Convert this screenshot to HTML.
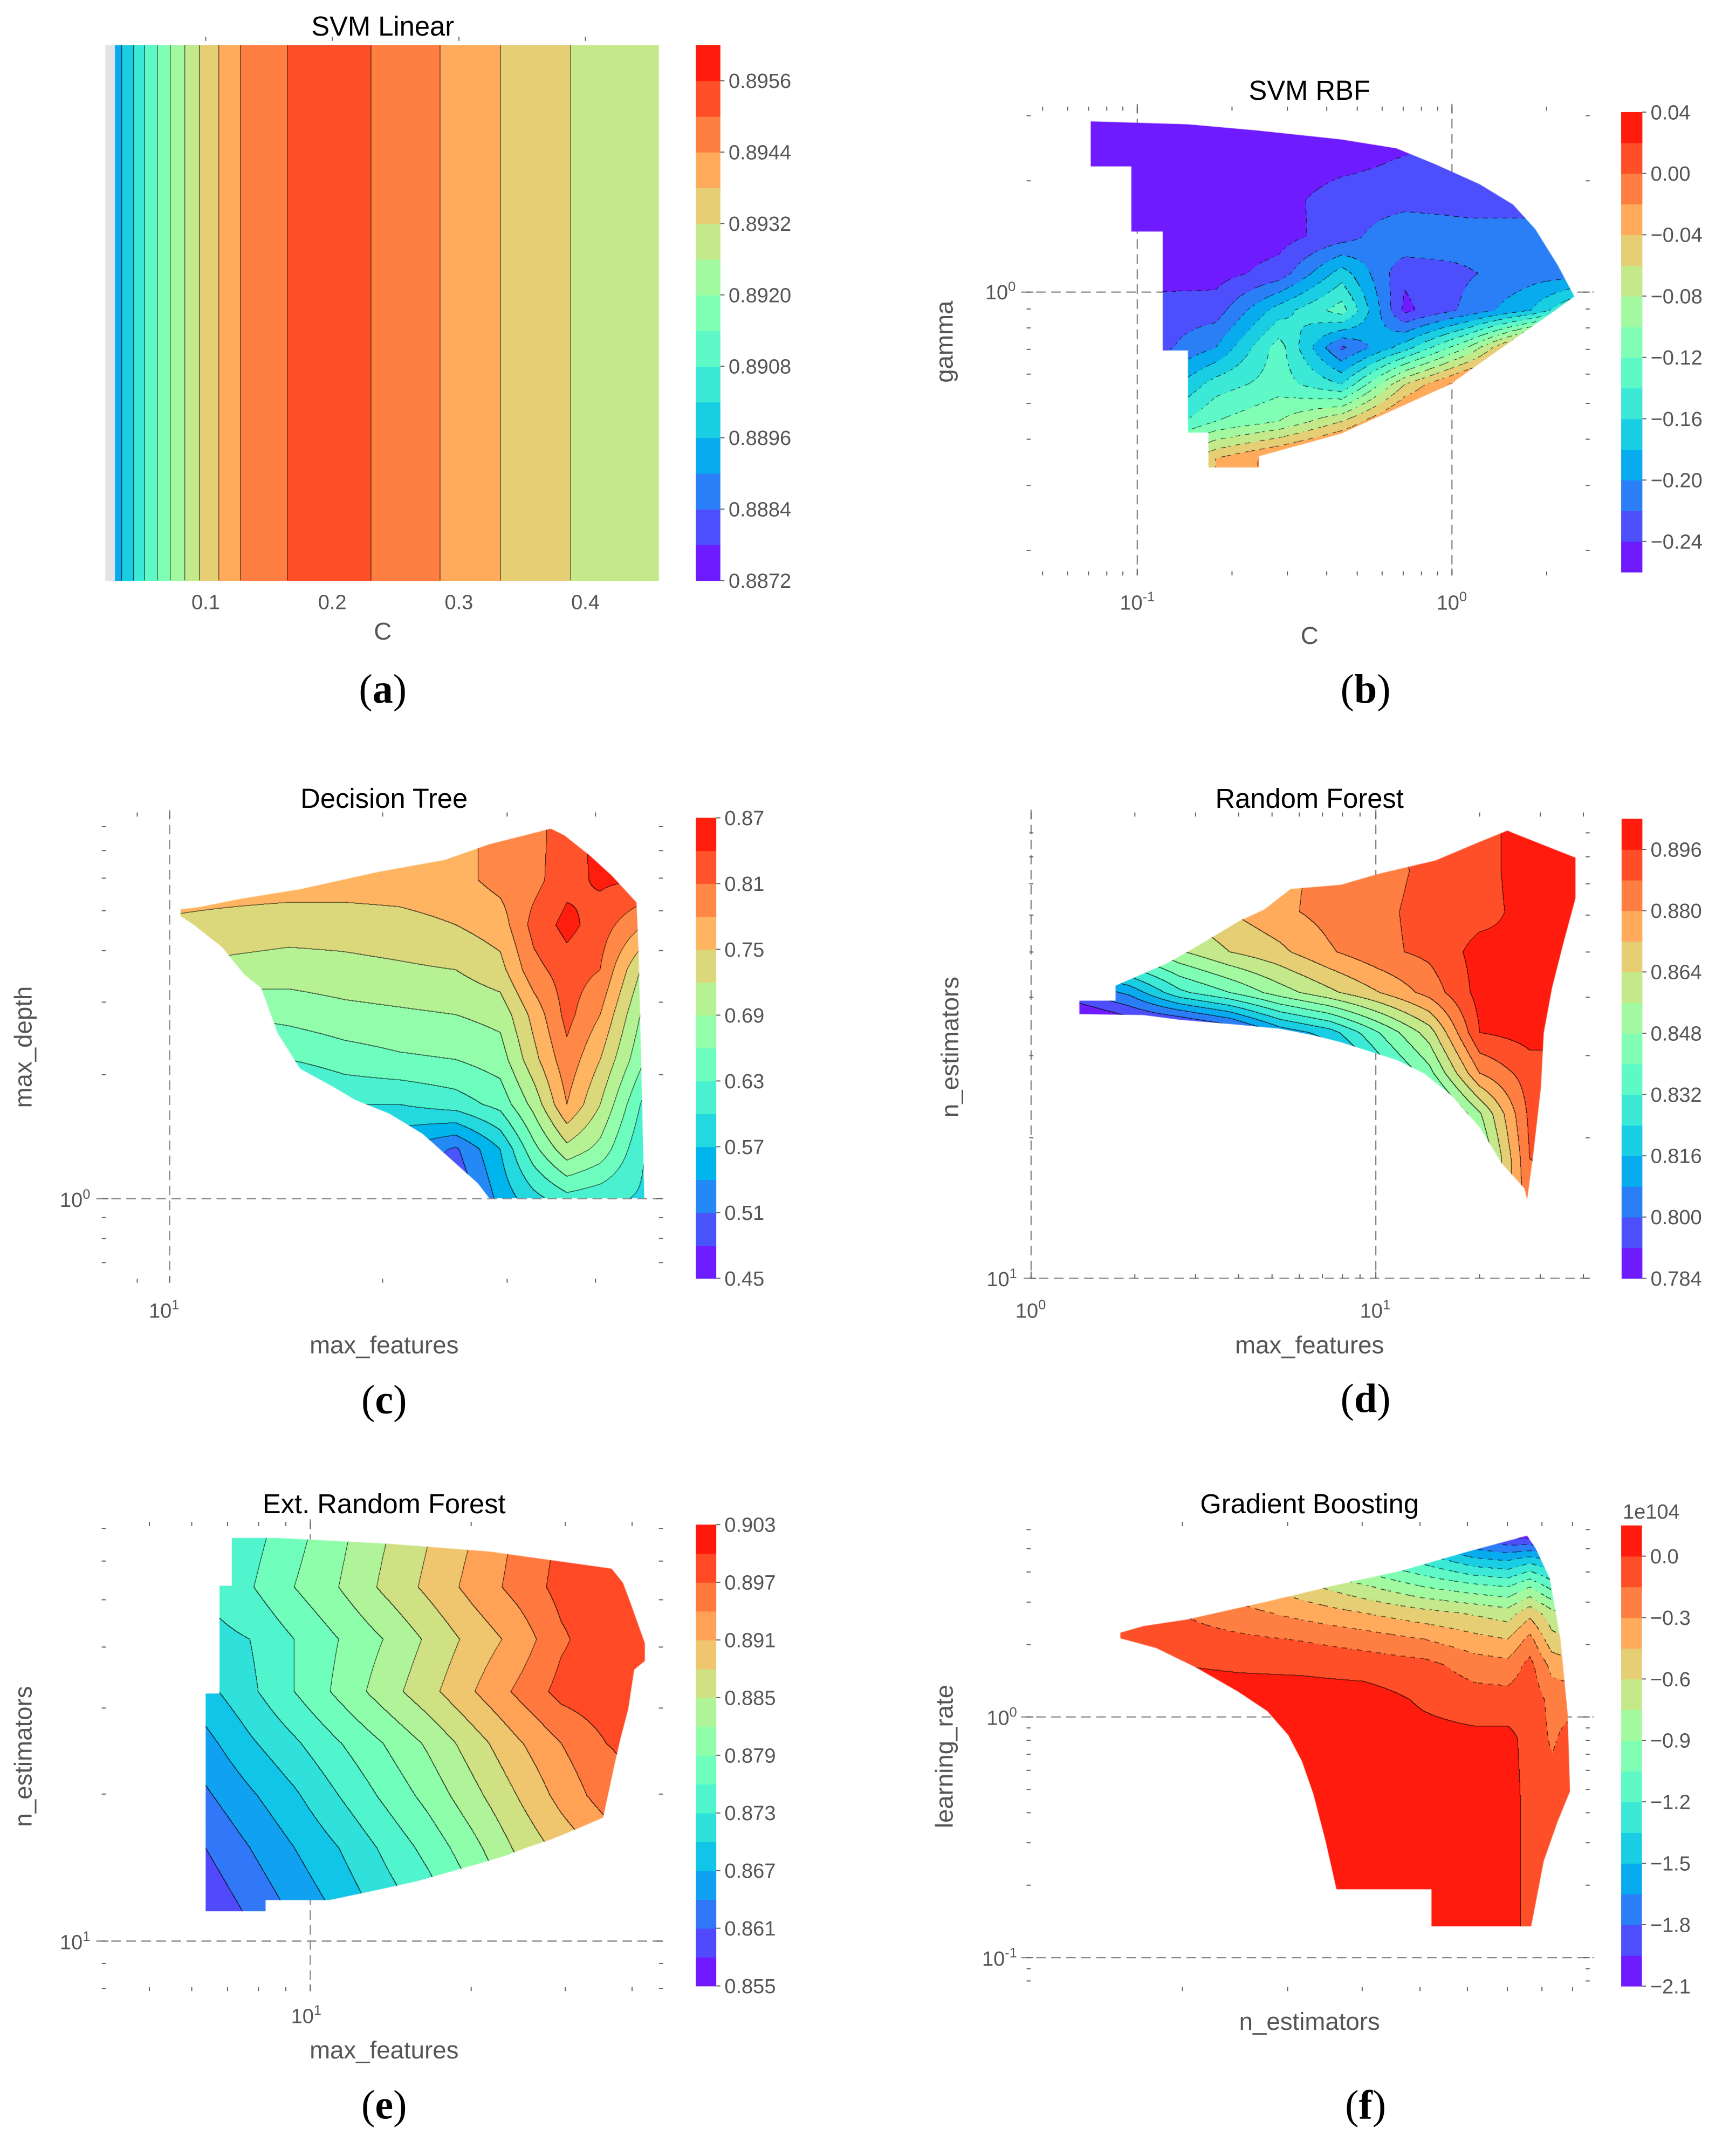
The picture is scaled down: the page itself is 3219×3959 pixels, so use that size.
<!DOCTYPE html>
<html><head><meta charset="utf-8"><title>Hyperparameter contour plots</title>
<style>
html,body{margin:0;padding:0;background:#fff;}
body{width:3219px;height:3959px;overflow:hidden;position:relative;}
#root{position:absolute;left:0;top:0;width:1270px;height:1562px;transform:scale(2.534646);transform-origin:0 0;}
svg{position:absolute;left:0;top:0;overflow:visible;}
canvas{position:absolute;}
.t{font-family:"Liberation Sans","DejaVu Sans",sans-serif;}
.title{font-size:20px;fill:#000;text-anchor:middle;}
.lab{font-size:18px;fill:#555;text-anchor:middle;}
.tick{font-size:15px;fill:#555;}
.cap{font-family:"Liberation Serif",serif;font-size:30px;fill:#000;text-anchor:middle;}
</style></head>
<body>
<div id="root">
<svg id="under" width="1270" height="1562" viewBox="0 0 1270 1562"></svg>
<div id="canvases"></div>
<svg id="over" width="1270" height="1562" viewBox="0 0 1270 1562">
<g class="t">
<text class="title" x="280" y="26">SVM Linear</text>
<text class="lab" x="280" y="468">C</text>
<text class="cap" x="280" y="514">(<tspan font-weight="bold">a</tspan>)</text>
<text class="title" x="958" y="73">SVM RBF</text>
<text class="lab" x="958" y="471">C</text>
<text class="lab" transform="translate(697,250) rotate(-90)">gamma</text>
<text class="tick" x="832" y="446" text-anchor="middle">10<tspan font-size="10" dy="-6">-1</tspan></text>
<text class="tick" x="1062" y="446" text-anchor="middle">10<tspan font-size="10" dy="-6">0</tspan></text>
<text class="tick" x="743" y="219" text-anchor="end">10<tspan font-size="10" dy="-6">0</tspan></text>
<text class="cap" x="999" y="514">(<tspan font-weight="bold">b</tspan>)</text>
<text class="title" x="281" y="591">Decision Tree</text>
<text class="lab" x="281" y="990">max_features</text>
<text class="lab" transform="translate(23,766) rotate(-90)">max_depth</text>
<text class="tick" x="120" y="964" text-anchor="middle">10<tspan font-size="10" dy="-6">1</tspan></text>
<text class="tick" x="66" y="883" text-anchor="end">10<tspan font-size="10" dy="-6">0</tspan></text>
<text class="cap" x="281" y="1034">(<tspan font-weight="bold">c</tspan>)</text>
<text class="title" x="958" y="591">Random Forest</text>
<text class="lab" x="958" y="990">max_features</text>
<text class="lab" transform="translate(701,766) rotate(-90)">n_estimators</text>
<text class="tick" x="754" y="964" text-anchor="middle">10<tspan font-size="10" dy="-6">0</tspan></text>
<text class="tick" x="1006" y="964" text-anchor="middle">10<tspan font-size="10" dy="-6">1</tspan></text>
<text class="tick" x="744" y="941" text-anchor="end">10<tspan font-size="10" dy="-6">1</tspan></text>
<text class="cap" x="999" y="1033">(<tspan font-weight="bold">d</tspan>)</text>
<text class="title" x="281" y="1107">Ext. Random Forest</text>
<text class="lab" x="281" y="1506">max_features</text>
<text class="lab" transform="translate(23,1285) rotate(-90)">n_estimators</text>
<text class="tick" x="224" y="1480" text-anchor="middle">10<tspan font-size="10" dy="-6">1</tspan></text>
<text class="tick" x="66" y="1426" text-anchor="end">10<tspan font-size="10" dy="-6">1</tspan></text>
<text class="cap" x="281" y="1550">(<tspan font-weight="bold">e</tspan>)</text>
<text class="title" x="958" y="1107">Gradient Boosting</text>
<text class="lab" x="958" y="1485">n_estimators</text>
<text class="lab" transform="translate(697,1285) rotate(-90)">learning_rate</text>
<text class="tick" x="744" y="1262" text-anchor="end">10<tspan font-size="10" dy="-6">0</tspan></text>
<text class="tick" x="744" y="1438" text-anchor="end">10<tspan font-size="10" dy="-6">-1</tspan></text>
<text class="tick" x="1208" y="1111" text-anchor="middle">1e104</text>
<text class="cap" x="999" y="1550">(<tspan font-weight="bold">f</tspan>)</text>
</g>
</svg>
</div>
<script>
// ---------- data ----------
const svmLinC = [0.0285,0.0342,0.0434,0.0522,0.0623,0.0724,0.0838,0.0956,0.111,0.128,0.165,0.200,0.231,0.2855,0.333,0.3886,0.4575];
const svmLinAcc = [0.8891,0.8896,0.8902,0.8908,0.8914,0.8920,0.8926,0.8932,0.8938,0.8944,0.8950,0.8955,0.8950,0.8944,0.8938,0.8932,0.8928];
const svmLinXTicks = [0.1,0.2,0.3,0.4];
const svmLinCbTicks = [0.8872,0.8884,0.8896,0.8908,0.8920,0.8932,0.8944,0.8956];

const rbfLogC = [-1.15,-0.95,-0.75,-0.55,-0.35,-0.15,0.05,0.25,0.4];
const rbfLogGamma = [0.46,0.35,0.25,0.15,0.05,-0.05,-0.15,-0.25,-0.35,-0.45];
const rbfScore = [
[-.25,-.25,-.25,-.25,-.25,-.25,-.245,-.236,-.235],
[-.25,-.25,-.25,-.25,-.245,-.238,-.232,-.232,-.232],
[-.25,-.25,-.25,-.246,-.232,-.23,-.23,-.23,-.228],
[-.25,-.25,-.25,-.248,-.23,-.2,-.21,-.21,-.21],
[-.25,-.25,-.248,-.232,-.17,-.236,-.222,-.21,-.21],
[-.25,-.23,-.23,-.17,-.13,-.245,-.215,-.18,-.13],
[-.23,-.23,-.2,-.13,-.224,-.17,-.1,0,.02],
[-.22,-.2,-.15,-.13,-.16,-.06,0,.02,.02],
[-.18,-.16,-.12,-.1,-.06,0,.02,.02,.02],
[-.1,-.1,-.04,-.01,.02,.02,.02,.02,.02]];
const rbfDomainLogC = [-1.148,-0.839,-0.618,-0.353,-0.177,-0.053,0.088,0.194,0.265,0.336,0.389,0.309,0.106,-0.005,-0.353,-0.613,-0.613,-0.774,-0.774,-0.839,-0.839,-0.919,-0.919,-1.019,-1.019,-1.148];
const rbfDomainLogGamma = [0.462,0.454,0.437,0.413,0.389,0.346,0.292,0.237,0.170,0.073,-0.012,-0.061,-0.182,-0.249,-0.383,-0.444,-0.474,-0.474,-0.380,-0.380,-0.158,-0.158,0.164,0.164,0.340,0.340];
const rbfCbTicks = [-0.24,-0.20,-0.16,-0.12,-0.08,-0.04,0.00,0.04];

const dtLogFeat = [1.016,1.090,1.169,1.248,1.326,1.405,1.468,1.515,1.562,1.609,1.672];
const dtLogDepth = [0.881,0.772,0.663,0.554,0.445,0.336,0.227,0.118,0.0];
const dtScore = [
[.765,.765,.765,.765,.765,.77,.79,.80,.825,.85,.85],
[.765,.765,.765,.765,.765,.77,.79,.80,.83,.845,.84],
[.745,.74,.735,.735,.74,.75,.765,.82,.85,.825,.78],
[.72,.71,.705,.71,.715,.72,.74,.80,.825,.81,.71],
[.66,.665,.67,.68,.685,.69,.70,.76,.82,.78,.68],
[.60,.61,.63,.645,.655,.66,.675,.74,.80,.75,.66],
[.55,.56,.575,.60,.60,.615,.64,.70,.78,.72,.62],
[.50,.51,.52,.53,.54,.505,.57,.65,.71,.68,.60],
[.45,.46,.47,.48,.49,.48,.55,.59,.62,.61,.595]];
const dtDomainLogFeat = [1.016,1.043,1.098,1.185,1.295,1.389,1.452,1.539,1.558,1.594,1.625,1.660,1.663,1.671,1.452,1.436,1.358,1.311,1.263,1.232,1.185,1.153,1.130,1.106,1.075,1.035,1.016];
const dtDomainLogDepth = [0.701,0.707,0.726,0.750,0.792,0.821,0.859,0.897,0.881,0.832,0.783,0.718,0.598,0.000,0.000,0.036,0.156,0.205,0.238,0.270,0.314,0.401,0.510,0.543,0.609,0.663,0.685];
const dtCbTicks = [0.45,0.51,0.57,0.63,0.69,0.75,0.81,0.87];

const rfLogFeat = [0.140,0.285,0.431,0.576,0.721,0.866,1.011,1.156,1.302,1.447,1.579];
const rfLogEst = [1.958,1.871,1.784,1.698,1.611,1.525,1.438,1.351,1.255,1.168];
const rfScore = [
[.870,.875,.878,.880,.882,.885,.887,.890,.893,.900,.900],
[.860,.865,.870,.874,.878,.882,.885,.890,.893,.900,.900],
[.855,.860,.865,.872,.878,.883,.886,.891,.893,.899,.900],
[.835,.845,.855,.864,.870,.879,.886,.890,.899,.897,.899],
[.800,.810,.830,.840,.852,.862,.872,.883,.899,.898,.898],
[.770,.780,.780,.790,.810,.820,.840,.860,.896,.899,.899],
[.750,.760,.770,.780,.790,.800,.825,.845,.880,.892,.892],
[.720,.730,.740,.750,.760,.780,.800,.825,.855,.890,.892],
[.720,.730,.740,.750,.760,.770,.790,.820,.845,.888,.890],
[.720,.730,.740,.750,.760,.770,.780,.810,.850,.885,.890]];
const rfDomainLogFeat = [0.140,0.245,0.245,0.326,0.398,0.460,0.515,0.605,0.676,0.753,0.898,1.011,1.173,1.302,1.382,1.398,1.579,1.579,1.544,1.511,1.487,1.479,1.455,1.439,1.431,1.366,1.302,1.221,1.140,1.060,0.979,0.898,0.818,0.721,0.576,0.431,0.326,0.140];
const rfDomainLogEst = [1.594,1.594,1.626,1.652,1.675,1.701,1.725,1.765,1.789,1.833,1.842,1.866,1.894,1.934,1.958,1.953,1.900,1.813,1.717,1.621,1.525,1.409,1.255,1.168,1.192,1.245,1.322,1.390,1.438,1.467,1.486,1.505,1.520,1.534,1.544,1.553,1.563,1.565];
const rfCbTicks = [0.784,0.800,0.816,0.832,0.848,0.864,0.880,0.896];

const etLogFeat = [0.805,0.888,0.971,1.054,1.137,1.221,1.304,1.387,1.470,1.554,1.626];
const etLogEst = [1.827,1.726,1.619,1.512,1.406,1.299,1.192,1.062];
const etScore = [
[.8728,.8748,.8780,.8812,.8847,.8879,.8911,.8945,.8975,.899,.899],
[.8735,.8757,.879,.882,.8855,.8887,.892,.895,.898,.899,.899],
[.8718,.873,.876,.879,.882,.8855,.889,.892,.8965,.899,.899],
[.869,.8723,.876,.8797,.8834,.887,.8908,.8945,.898,.899,.899],
[.866,.8695,.8725,.8758,.879,.8825,.8865,.8905,.894,.897,.898],
[.8635,.8665,.8695,.873,.8765,.880,.884,.888,.892,.8955,.897],
[.861,.864,.867,.870,.8735,.877,.881,.8855,.889,.892,.895],
[.8585,.8615,.8645,.8675,.871,.874,.878,.882,.886,.889,.892]];
const etDomainLogFeat = [0.805,0.917,0.917,1.036,1.119,1.198,1.262,1.314,1.366,1.406,1.450,1.486,1.548,1.569,1.580,1.595,1.606,1.626,1.626,1.616,1.600,1.585,1.564,1.460,1.335,1.148,0.940,0.854,0.854,0.831,0.831,0.805];
const etDomainLogEst = [1.062,1.062,1.085,1.085,1.104,1.123,1.143,1.159,1.176,1.193,1.209,1.225,1.254,1.361,1.414,1.477,1.557,1.575,1.611,1.642,1.691,1.735,1.764,1.780,1.799,1.815,1.827,1.827,1.729,1.729,1.508,1.508];
const etCbTicks = [0.855,0.861,0.867,0.873,0.879,0.885,0.891,0.897,0.903];

const gbLogEst = [1.197,1.296,1.399,1.501,1.604,1.706,1.790,1.846,1.883,1.920,1.950];
const gbLogRate = [0.759,0.651,0.542,0.434,0.325,0.217,0.072,-0.090,-0.362,-0.633,-0.868];
const gbScore = [
[-.8,-.95,-1.1,-1.3,-1.5,-1.75,-1.9,-2.0,-2.05,-2.05,-2.05],
[-.5,-.6,-.75,-.9,-1.05,-1.25,-1.45,-1.5,-1.4,-1.5,-1.55],
[-.25,-.3,-.4,-.55,-.72,-.9,-1.0,-1.05,-.9,-1.1,-1.15],
[-.1,-.15,-.25,-.35,-.45,-.55,-.62,-.68,-.5,-.7,-.75],
[-.05,-.08,-.12,-.16,-.22,-.3,-.4,-.45,-.25,-.55,-.6],
[-.02,0,-.02,-.03,-.06,-.1,-.22,-.25,-.1,-.35,-.4],
[.07,.07,.07,.07,.07,-.02,-.08,-.08,-.05,-.2,-.2],
[.07,.07,.07,.07,.07,.05,.04,.04,-.05,-.17,-.1],
[.07,.07,.07,.07,.07,.07,.07,.07,-.05,-.08,-.08],
[.07,.07,.07,.07,.07,.07,.07,.07,-.05,-.08,-.08],
[.07,.07,.07,.07,.07,.07,.07,.07,-.05,-.08,-.08]];
const gbDomainLogEst = [1.197,1.236,1.308,1.445,1.566,1.669,1.781,1.878,1.892,1.916,1.934,1.946,1.950,1.929,1.906,1.885,1.718,1.718,1.559,1.540,1.520,1.501,1.478,1.443,1.394,1.324,1.257,1.197];
const gbDomainLogRate = [0.353,0.380,0.407,0.483,0.555,0.611,0.691,0.756,0.705,0.579,0.325,0.018,-0.307,-0.434,-0.597,-0.868,-0.868,-0.714,-0.714,-0.506,-0.316,-0.181,-0.072,0.027,0.108,0.208,0.289,0.329];
const gbCbTicks = [-2.1,-1.8,-1.5,-1.2,-0.9,-0.6,-0.3,0.0];

// ---------- helpers ----------
const S = 3219/1270;
const NS = 'http://www.w3.org/2000/svg';
function ax(pix, val, ppu){ return {f:v=>pix+(v-val)*ppu, inv:t=>val+(t-pix)/ppu}; }
function rainbow(t){
  const r=Math.min(1,Math.max(0,Math.abs(2*t-0.5)));
  const g=Math.min(1,Math.max(0,Math.sin(Math.PI*t)));
  const b=Math.min(1,Math.max(0,Math.cos(Math.PI*t/2)));
  return [Math.round(r*255),Math.round(g*255),Math.round(b*255)];
}
function locate(a,v){
  const n=a.length, asc=a[n-1]>a[0];
  for(let i=0;i<n-1;i++){
    const lo=a[i],hi=a[i+1];
    if(asc? v<=hi : v>=hi){ let f=(v-lo)/(hi-lo); return [i,Math.max(0,Math.min(1,f))]; }
  }
  return [n-2,1];
}
function svgEl(parent,tag,attrs){
  const e=document.createElementNS(NS,tag);
  for(const k in attrs) e.setAttribute(k,attrs[k]);
  parent.appendChild(e); return e;
}

const panels = [
 {id:'svm-linear', oneD:true, xs:svmLinC, z:svmLinAcc, fx0:77.3, fx1:482, fy0:32.9, fy1:424.7,
  xa:ax(150.5,0.1,926), lo:0.8872, step:0.0006, n:15, dashedNeg:false,
  cb:{x:509,w:18,y0:32.9,y1:424.7}, cbTicks:svmLinCbTicks, fmt:4},
 {id:'svm-rbf', xs:rbfLogC, ys:rbfLogGamma, z:rbfScore, px:rbfDomainLogC, py:rbfDomainLogGamma,
  fx0:751, fx1:1163, fy0:78, fy1:421, xa:ax(832,-1,230.2), ya:ax(213.7,0,-270.5),
  lo:-0.26, step:0.02, n:15, dashedNeg:true, cb:{x:1186,w:15.5,y0:82,y1:418.5}, cbTicks:rbfCbTicks, fmt:2, xGrid:[-1,0], yGrid:[0]},
 {id:'decision-tree', xs:dtLogFeat, ys:dtLogDepth, z:dtScore, px:dtDomainLogFeat, py:dtDomainLogDepth,
  fx0:74.4, fx1:485, fy0:594.4, fy1:938.5, xa:ax(124.1,1,517.5), ya:ax(877,0,-301.4),
  lo:0.45, step:0.03, n:14, dashedNeg:false, cb:{x:509,w:15,y0:598.3,y1:935.2}, cbTicks:dtCbTicks, fmt:2, xGrid:[1], yGrid:[0]},
 {id:'random-forest', xs:rfLogFeat, ys:rfLogEst, z:rfScore, px:rfDomainLogFeat, py:rfDomainLogEst,
  fx0:753, fx1:1163, fy0:594.4, fy1:935.2, xa:ax(754.3,0,252.2), ya:ax(935.2,1,-341.5),
  lo:0.784, step:0.008, n:15, dashedNeg:false, cb:{x:1186.3,w:15.2,y0:599,y1:935.2}, cbTicks:rfCbTicks, fmt:3, xGrid:[0,1], yGrid:[1]},
 {id:'ext-random-forest', xs:etLogFeat, ys:etLogEst, z:etScore, px:etDomainLogFeat, py:etDomainLogEst,
  fx0:74.4, fx1:485, fy0:1113.5, fy1:1456.7, xa:ax(227,1,391), ya:ax(1420.1,1,-357.3),
  lo:0.855, step:0.003, n:16, dashedNeg:false, cb:{x:509,w:15,y0:1115.4,y1:1452.9}, cbTicks:etCbTicks, fmt:3, xGrid:[1], yGrid:[1]},
 {id:'gradient-boosting', xs:gbLogEst, ys:gbLogRate, z:gbScore, px:gbDomainLogEst, py:gbDomainLogRate,
  fx0:751, fx1:1163, fy0:1113.5, fy1:1456.7, xa:ax(865,1.301,436.9), ya:ax(1256.1,0,-176.1),
  lo:-2.1, step:0.15, n:15, dashedNeg:true, cb:{x:1186,w:15.2,y0:1116,y1:1453}, cbTicks:gbCbTicks, fmt:1, yGrid:[0,-1]}
];

const under=document.getElementById('under');
const over=document.getElementById('over');
const holder=document.getElementById('canvases');

function logTicks(lo,hi){
  const out=[];
  for(let n=Math.floor(Math.min(lo,hi))-1;n<=Math.ceil(Math.max(lo,hi));n++)
    for(let k=1;k<=9;k++){ const v=n+Math.log10(k); if(v>=Math.min(lo,hi)-1e-9&&v<=Math.max(lo,hi)+1e-9) out.push([v,k===1]); }
  return out;
}

panels.forEach(p=>{
  (p.xGrid||[]).forEach(v=>{
    const l=svgEl(under,'line',{x1:p.xa.f(v),x2:p.xa.f(v),y1:p.fy0-2,y2:p.fy1,stroke:'#888','stroke-width':0.9,'stroke-dasharray':'7,4'});
    
    
  });
  (p.yGrid||[]).forEach(v=>{
    const l=svgEl(under,'line',{x1:p.fx0-4,x2:p.fx1+3,y1:p.ya.f(v),y2:p.ya.f(v),stroke:'#888','stroke-width':0.9,'stroke-dasharray':'7,4'});
    
    
  });
  if(p.oneD){
    svmLinXTicks.forEach(v=>{
      const x=p.xa.f(v);
      const l=svgEl(over,'line',{x1:x,x2:x,y1:p.fy0-6,y2:p.fy0-3,stroke:'#666','stroke-width':0.8});
      
      
      const t=svgEl(over,'text',{x:x,y:p.fy1+21,'text-anchor':'middle',class:'t tick'});
      t.textContent=String(v);
      
      
    });
  } else {
    logTicks(p.xa.inv(p.fx0),p.xa.inv(p.fx1)).forEach(([v,maj])=>{
      const x=p.xa.f(v), L=maj?5:3;
      [[p.fy0,p.fy0+L],[p.fy1-L,p.fy1]].forEach(([a,b])=>{
        const l=svgEl(under,'line',{x1:x,x2:x,y1:a,y2:b,stroke:'#666','stroke-width':0.8});
        
        
      });
    });
    logTicks(p.ya.inv(p.fy1),p.ya.inv(p.fy0)).forEach(([v,maj])=>{
      const y=p.ya.f(v), L=maj?5:3;
      [[p.fx0,p.fx0+L],[p.fx1-L,p.fx1]].forEach(([a,b])=>{
        const l=svgEl(under,'line',{x1:a,x2:b,y1:y,y2:y,stroke:'#666','stroke-width':0.8});
        
        
      });
    });
  }
  const cb=p.cb, H=cb.y1-cb.y0, total=p.n*p.step;
  for(let k=0;k<p.n;k++){
    const c=rainbow((k+0.5)/p.n);
    const yb=cb.y1-k*H/p.n, yt=cb.y1-(k+1)*H/p.n;
    const r=svgEl(over,'rect',{x:cb.x,y:yt,width:cb.w,height:yb-yt+0.3,fill:`rgb(${c[0]},${c[1]},${c[2]})`});
    
    
  }
  p.cbTicks.forEach(v=>{
    const y=cb.y1-(v-p.lo)/total*H;
    const l=svgEl(over,'line',{x1:cb.x+cb.w,x2:cb.x+cb.w+3,y1:y,y2:y,stroke:'#666','stroke-width':0.8});
    
    
    const t=svgEl(over,'text',{x:cb.x+cb.w+6,y:y+5.3,class:'t tick'});
    t.textContent=v.toFixed(p.fmt).replace('-','\u2212');
    
    
  });

  const w=p.fx1-p.fx0, h=p.fy1-p.fy0;
  const W=Math.round(w*S), Hh=Math.round(h*S);
  const cv=document.createElement('canvas');
  
  
  cv.width=W; cv.height=Hh;
  cv.style.left=p.fx0+'px'; cv.style.top=p.fy0+'px';
  cv.style.width=w+'px'; cv.style.height=h+'px';
  holder.appendChild(cv);
  const K=new Int16Array(W*Hh);
  for(let j=0;j<Hh;j++){
    const ty=p.fy0+(j+0.5)*h/Hh;
    let iy=0,fy=0;
    if(!p.oneD){ const r=locate(p.ys,p.ya.inv(ty)); iy=r[0]; fy=r[1]; }
    for(let i=0;i<W;i++){
      const tx=p.fx0+(i+0.5)*w/W, dx=p.xa.inv(tx);
      let v;
      if(p.oneD){
        if(dx<p.xs[0]){ K[j*W+i]=-2; continue; }
        const [ix,fx]=locate(p.xs,dx); v=p.z[ix]*(1-fx)+p.z[ix+1]*fx;
      } else {
        const [ix,fx]=locate(p.xs,dx);
        const z0=p.z[iy], z1=p.z[iy+1];
        v=(z0[ix]*(1-fx)+z0[ix+1]*fx)*(1-fy)+(z1[ix]*(1-fx)+z1[ix+1]*fx)*fy;
      }
      let k=Math.floor((v-p.lo)/p.step);
      K[j*W+i]=Math.max(0,Math.min(p.n-1,k));
    }
  }
  const pal=[]; for(let k=0;k<p.n;k++) pal.push(rainbow((k+0.5)/p.n));
  const off=document.createElement('canvas'); off.width=W; off.height=Hh;
  const octx=off.getContext('2d');
  const img=octx.createImageData(W,Hh); const d=img.data;
  for(let q=0;q<W*Hh;q++){
    const k=K[q];
    const c = k===-2 ? [228,228,228] : pal[k];
    d[q*4]=c[0]; d[q*4+1]=c[1]; d[q*4+2]=c[2]; d[q*4+3]=255;
  }
  const mark=(q)=>{ d[q*4]=d[q*4]*0.12; d[q*4+1]=d[q*4+1]*0.12; d[q*4+2]=d[q*4+2]*0.12; };
  for(let j=0;j<Hh-1;j++) for(let i=0;i<W-1;i++){
    const q=j*W+i, a=K[q];
    if(a<0) continue;
    const nb=[q+1,q+W];
    for(const r of nb){
      const b=K[r];
      if(b<0||b===a) continue;
      const lev=p.lo+p.step*Math.max(a,b);
      if(p.dashedNeg && lev< -1e-9 && (((i/9|0)^(j/9|0))&1)) continue;
      mark(q);
    }
  }
  octx.putImageData(img,0,0);
  const ctx=cv.getContext('2d');
  ctx.save();
  if(!p.oneD){
    ctx.beginPath();
    for(let m=0;m<p.px.length;m++){
      const X=(p.xa.f(p.px[m])-p.fx0)*W/w, Y=(p.ya.f(p.py[m])-p.fy0)*Hh/h;
      if(m===0) ctx.moveTo(X,Y); else ctx.lineTo(X,Y);
    }
    ctx.closePath(); ctx.clip();
  }
  ctx.drawImage(off,0,0);
  ctx.restore();
});
</script>
</body></html>
